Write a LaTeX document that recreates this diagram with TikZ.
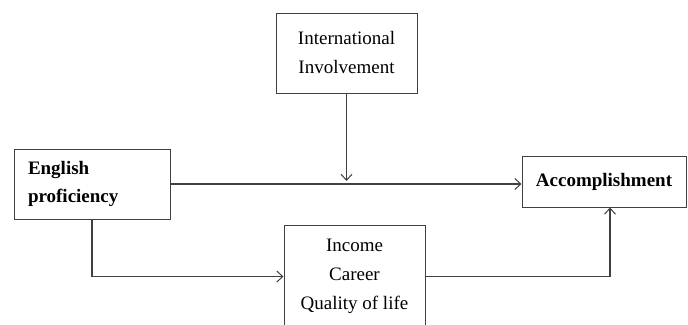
\documentclass[tikz,border=0pt]{standalone}
\usepackage{fontspec}
\setmainfont{Liberation Serif}
\usetikzlibrary{arrows.meta}
\begin{document}
\begin{tikzpicture}[x=1pt,y=-1pt,
  box/.style={draw=black!75,line width=1pt,inner sep=0pt,font=\fontsize{19}{29}\selectfont},
  conn/.style={draw=black!75,line width=1.1pt},
  arr/.style={conn,-{Straight Barb[length=6pt,width=11pt,line width=1pt]}}]
\useasboundingbox (0,0) rectangle (688,324);
\clip (0,0) rectangle (688,324);
\node[box,minimum width=141pt,minimum height=80pt,align=center] (intl) at (346.5,53) {International\\Involvement};
\node[box,minimum width=156pt,minimum height=70pt,align=left,text width=128pt,font=\fontsize{19}{28.5}\selectfont\bfseries] (eng) at (92,184) {English\\proficiency};
\node[box,minimum width=164pt,minimum height=51pt,font=\fontsize{19}{29}\selectfont\bfseries] (acc) at (604,181.5) {Accomplishment};
\node[box,minimum width=141pt,minimum height=103pt,align=center] (inc) at (354.5,276.5) {Income\\Career\\Quality of life};
\coordinate (up) at ([xshift=6pt]acc.south);
\draw[arr] (eng.east) -- (eng.east -| acc.west);
\draw[arr,shorten >=3pt] (intl.south) -- (intl.south |- eng.east);
\draw[arr] (eng.south) |- (inc.west);
\draw[arr] (inc.east) -| (up);
\end{tikzpicture}
\end{document}
